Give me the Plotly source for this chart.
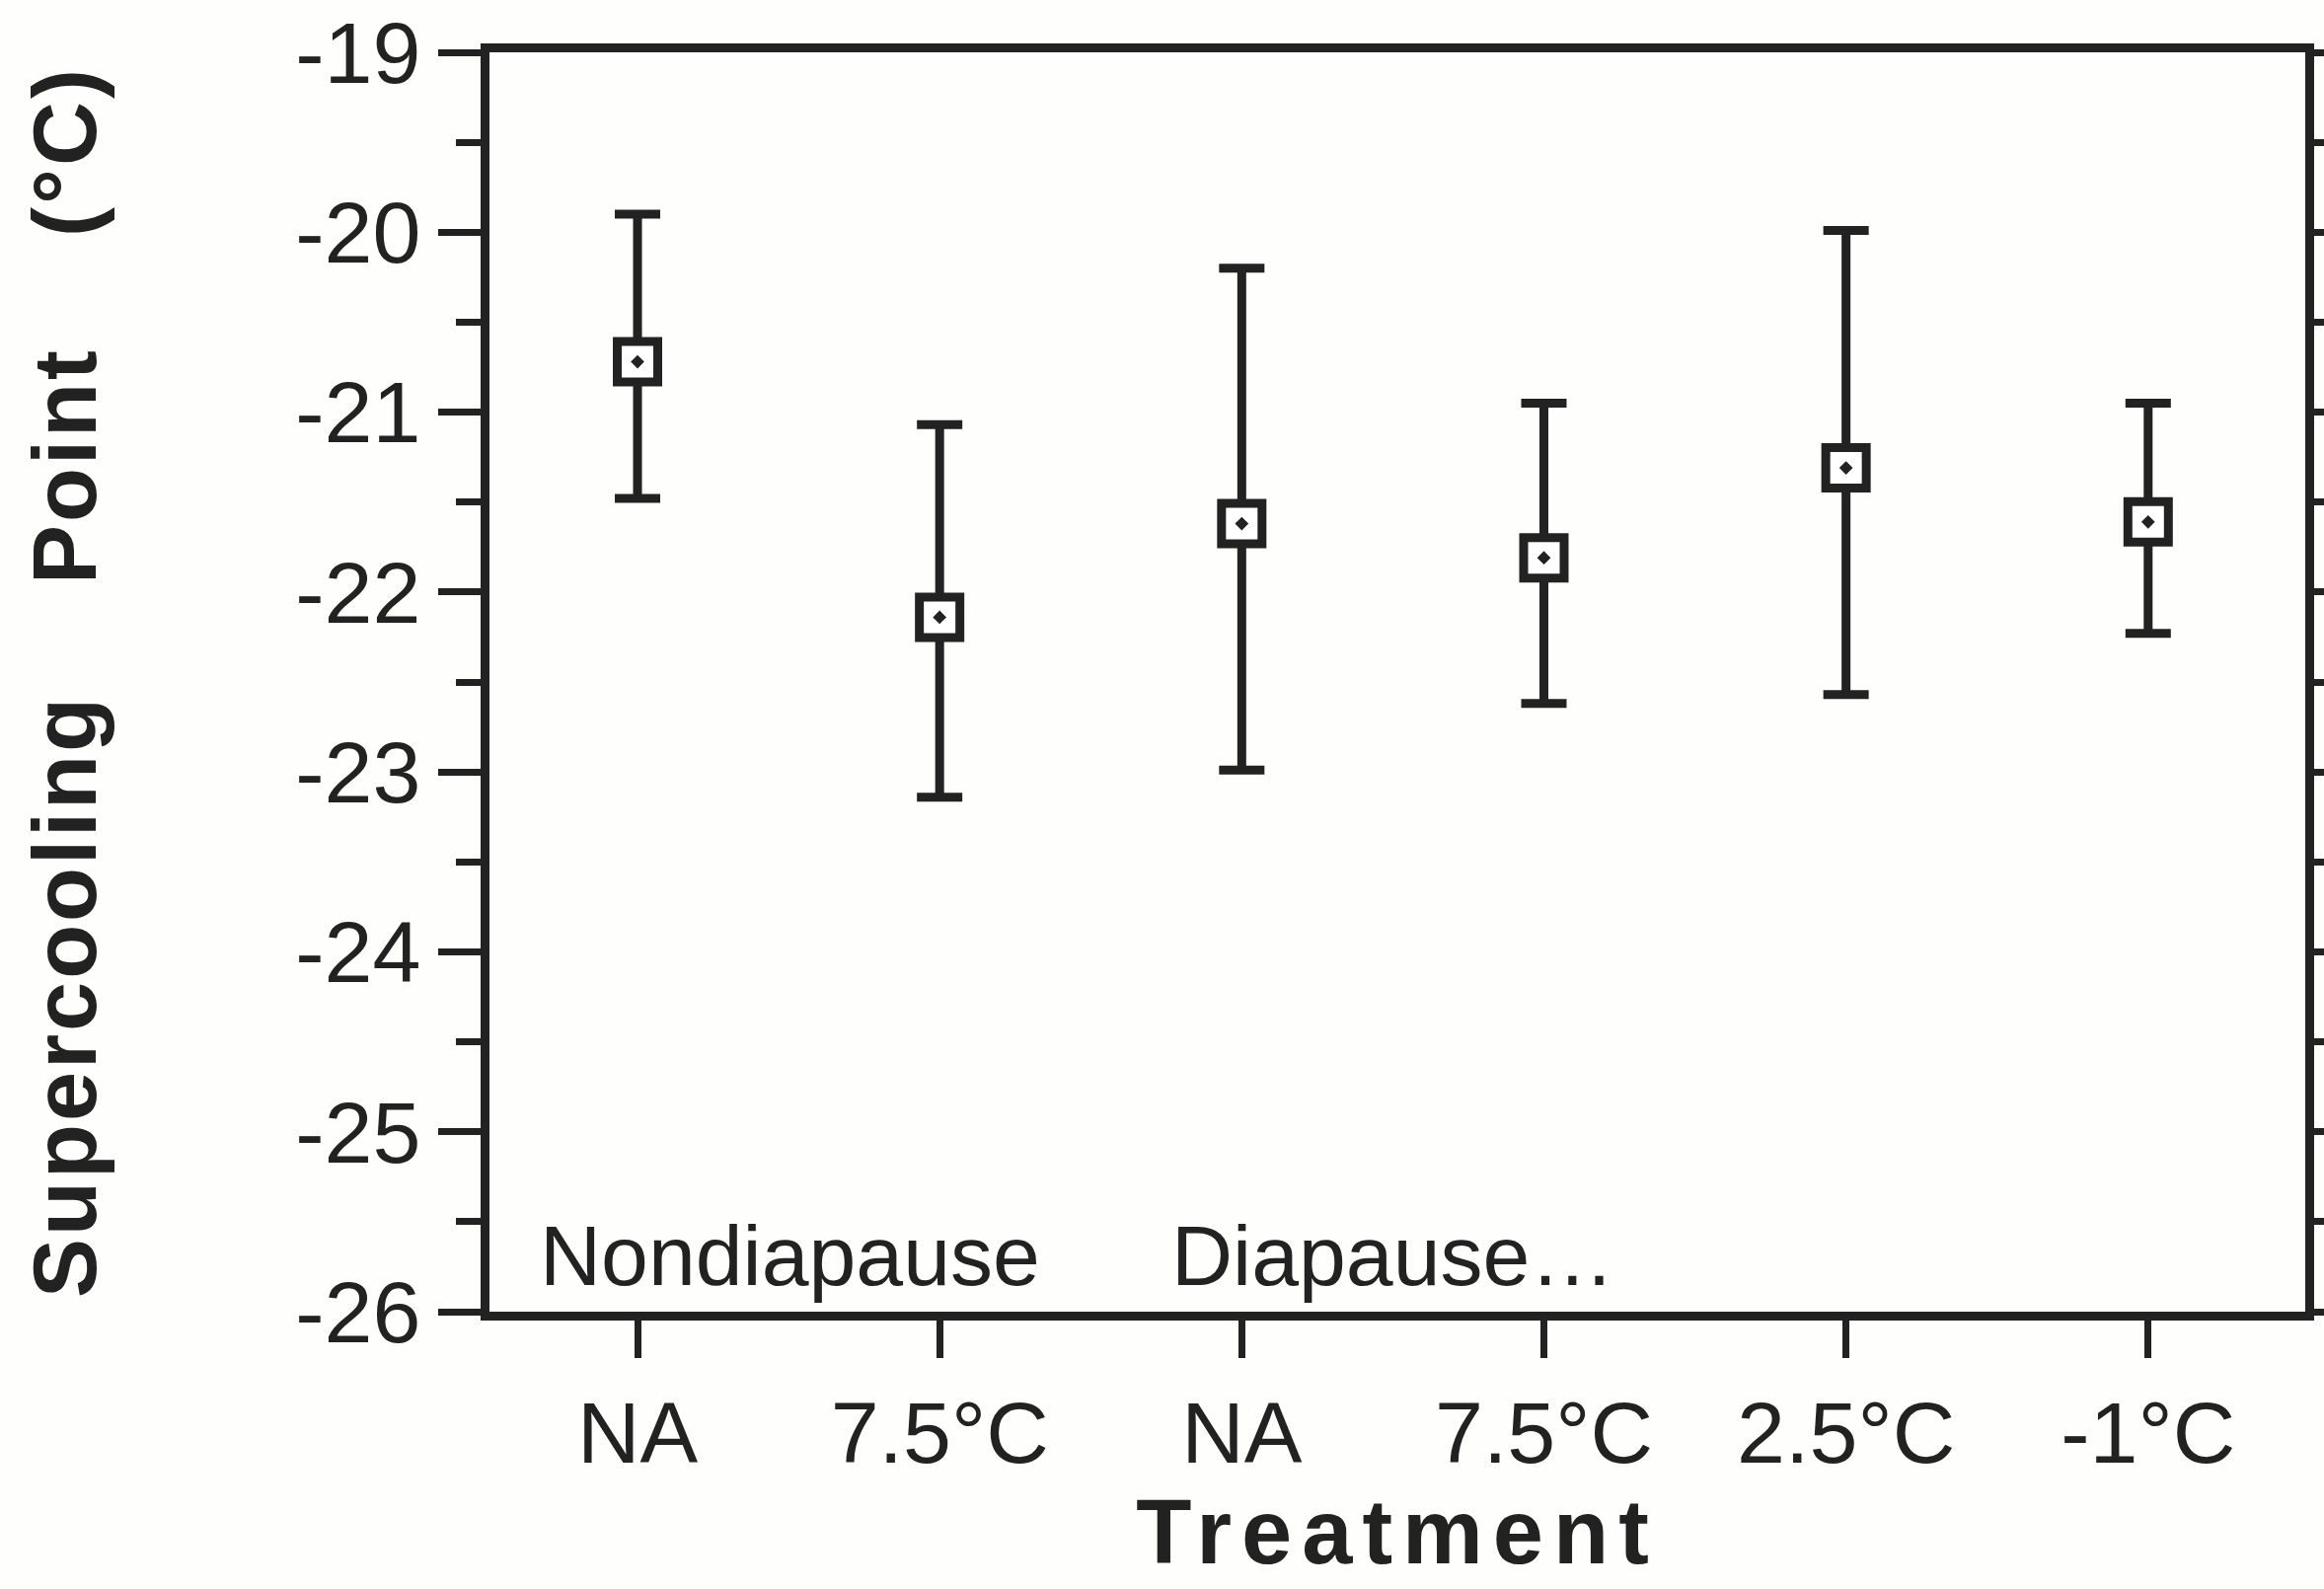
import plotly.graph_objects as go

# Data
categories = ["NA", "7.5°C", "NA", "7.5°C", "2.5°C", "-1°C"]
positions = [0, 1, 2, 3, 4, 5]
means = [-20.72, -22.14, -21.62, -21.81, -21.31, -21.61]
upper = [-19.90, -21.07, -20.20, -20.95, -19.99, -20.95]
lower = [-21.48, -23.14, -22.99, -22.62, -22.57, -22.23]
y_ticks = [-19, -20, -21, -22, -23, -24, -25, -26]
group_labels = ["Nondiapause", "Diapause…"]
group_x = [-0.33, 1.76]

err_plus = [u - m for u, m in zip(upper, means)]
err_minus = [m - l for m, l in zip(means, lower)]

INK = "#222222"
BG = "#fefefc"
FONT = "Liberation Sans, Arial, Helvetica, sans-serif"
NB = "\u00a0" * 4

fig = go.Figure()
fig.add_trace(go.Scatter(
    x=positions, y=means, mode="markers",
    marker=dict(symbol="square-dot", size=41, color="white",
                line=dict(color=INK, width=9)),
    error_y=dict(type="data", symmetric=False, array=err_plus, arrayminus=err_minus,
                 color=INK, thickness=9, width=23),
    showlegend=False,
))

for gx, gl in zip(group_x, group_labels):
    fig.add_annotation(x=gx, y=-25.69, xref="x", yref="y", text=gl, showarrow=False,
                       xanchor="left", yanchor="middle",
                       font=dict(family=FONT, size=86, color=INK))

fig.update_layout(
    width=2355, height=1610,
    margin=dict(l=496, r=19, t=53, b=281, autoexpand=False),
    paper_bgcolor=BG, plot_bgcolor=BG,
    font=dict(family=FONT, color=INK),
)
fig.update_xaxes(
    range=[-0.49, 5.52], tickmode="array", tickvals=positions, ticktext=categories,
    showgrid=False, zeroline=False, showline=True, linecolor=INK, linewidth=9,
    mirror=True, ticks="outside", ticklen=38, tickwidth=7, tickcolor=INK,
    tickfont=dict(family=FONT, size=88, color=INK), automargin=False,
    title=dict(text="<b>Treatment</b>", font=dict(family=FONT, size=92, color=INK), standoff=14),
)
fig.update_yaxes(
    range=[-26, -19], tickmode="array", tickvals=y_ticks,
    ticktext=[str(v) for v in y_ticks],
    showgrid=False, zeroline=False, showline=True, linecolor=INK, linewidth=9,
    mirror="ticks", ticks="outside", ticklen=43, tickwidth=7, tickcolor=INK,
    minor=dict(dtick=0.5, ticks="outside", ticklen=25, tickwidth=7, tickcolor=INK, showgrid=False),
    tickfont=dict(family=FONT, size=88, color=INK), automargin=False,
    title=dict(text="<b>Supercooling" + NB + "Point" + NB + "(°C)</b>",
               font=dict(family=FONT, size=90, color=INK), standoff=175),
)

post = """
var gd = document.getElementById('{plot_id}');
function spacing(){
  gd.querySelectorAll('text.xtitle').forEach(function(e){ e.style.letterSpacing = '10px'; });
  gd.querySelectorAll('text.ytitle').forEach(function(e){ e.style.letterSpacing = '3px'; });
}
spacing();
if (gd.on) { gd.on('plotly_afterplot', spacing); }
"""

fig.write_html("out.html", post_script=post)
